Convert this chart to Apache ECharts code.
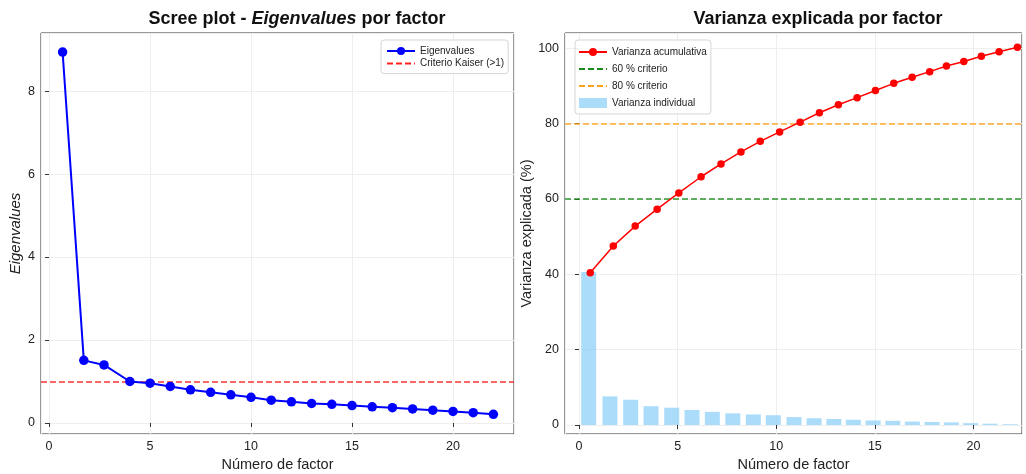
<!DOCTYPE html>
<html>
<head>
<meta charset="utf-8">
<script src="https://cdn.jsdelivr.net/npm/echarts@6/dist/echarts.min.js"></script>
<style>
html,body{margin:0;padding:0;background:#fff;}
#chart{width:1026px;height:474px;}
</style>
</head>
<body>
<div id="chart"></div>
<script>
// ---- data ----
const eigX = [0.67,1.72,2.72,4,5,6,7,8,9,10,11,12,13,14,15,16,17,18,19,20,21,22];
const eigVals = [8.94,1.51,1.40,1.00,0.96,0.88,0.80,0.74,0.68,0.62,0.55,0.51,0.47,0.45,0.42,0.39,0.37,0.34,0.31,0.28,0.25,0.21];
const kaiserLevel = 1;

const barX = [0.49,1.57,2.62,3.65,4.70,5.73,6.76,7.80,8.84,9.85,10.90,11.92,12.92,13.91,14.91,15.91,16.90,17.90,18.88,19.86,20.84,21.86];
const barVals = [40.6,7.6,6.7,5.0,4.6,4.0,3.5,3.1,2.8,2.6,2.1,1.8,1.6,1.4,1.2,1.1,0.9,0.8,0.7,0.5,0.35,0.2];

const cumX = [0.57,1.74,2.85,3.96,5.06,6.19,7.20,8.21,9.19,10.17,11.21,12.19,13.15,14.10,15.03,15.96,16.89,17.78,18.63,19.51,20.40,21.30,22.23];
const cumVals = [40.4,47.5,52.8,57.3,61.6,65.9,69.3,72.5,75.3,77.8,80.4,82.9,85.0,86.9,88.8,90.7,92.3,93.8,95.3,96.5,97.9,99.1,100.3];
const crit60 = 60;
const crit80 = 80;

const FONT = '"Liberation Sans", Arial, sans-serif';
const pairs = (xs, ys) => xs.map((x, i) => [x, ys[i]]);

const chart = echarts.init(document.getElementById('chart'), null, {renderer: 'canvas'});

function valueAxis(extra) {
  return Object.assign({
    type: 'value',
    axisLine: {show: false},
    axisTick: {show: true, inside: false, length: 4, lineStyle: {color: '#333', width: 1}},
    axisLabel: {color: '#222', fontSize: 12.5, fontFamily: FONT, margin: 6, showMinLabel: false, showMaxLabel: false},
    splitLine: {show: true, lineStyle: {color: '#eeeeee', width: 1}},
    nameTextStyle: {color: '#222', fontSize: 14.5, fontFamily: FONT}
  }, extra);
}

function refLine(name, value, color, xi, yi) {
  return {
    type: 'line', name: name, xAxisIndex: xi, yAxisIndex: yi, data: [],
    symbol: 'none',
    lineStyle: {color: color, width: 1.5, type: [6, 3]},
    itemStyle: {color: color},
    markLine: {
      silent: true, symbol: ['none', 'none'], label: {show: false},
      lineStyle: {color: color, width: 1.5, type: [6, 3], opacity: 0.9},
      data: [{yAxis: value}], z: 1
    }
  };
}

const legendBase = {
  orient: 'vertical',
  backgroundColor: 'rgba(255,255,255,0.9)',
  borderColor: '#d6d6d6', borderWidth: 1, borderRadius: 3,
  itemWidth: 28, itemHeight: 10,
  textStyle: {fontSize: 10, color: '#222', fontFamily: FONT, lineHeight: 10},
  selectedMode: false
};
const noSymbol = {opacity: 0};

const option = {
  animation: false,
  backgroundColor: '#fff',
  graphic: [
    {type: 'text', x: 297, y: 19, style: {
      text: '{b|Scree plot - }{i|Eigenvalues}{b| por factor}',
      align: 'center', verticalAlign: 'middle',
      rich: {
        b: {fontSize: 18, fontWeight: 'bold', fontFamily: FONT, fill: '#111'},
        i: {fontSize: 18, fontWeight: 'bold', fontStyle: 'italic', fontFamily: FONT, fill: '#111'}
      }
    }},
    {type: 'text', x: 818, y: 19, style: {
      text: 'Varianza explicada por factor',
      align: 'center', verticalAlign: 'middle',
      fontSize: 18, fontWeight: 'bold', fontFamily: FONT, fill: '#111'
    }}
  ],
  grid: [
    {left: 41, top: 33, width: 473, height: 401, show: true, borderColor: '#333', borderWidth: 1,
     backgroundColor: 'transparent', containLabel: false, outerBoundsMode: 'none'},
    {left: 565, top: 33, width: 457, height: 401, show: true, borderColor: '#333', borderWidth: 1,
     backgroundColor: 'transparent', containLabel: false, outerBoundsMode: 'none'}
  ],
  xAxis: [
    valueAxis({gridIndex: 0, min: -0.40, max: 23.02, name: 'Número de factor', nameLocation: 'middle', nameGap: 21}),
    valueAxis({gridIndex: 1, min: -0.71, max: 22.46, name: 'Número de factor', nameLocation: 'middle', nameGap: 21})
  ],
  yAxis: [
    valueAxis({gridIndex: 0, min: -0.265, max: 9.40, name: 'Eigenvalues', nameLocation: 'middle', nameGap: 18,
      nameTextStyle: {color: '#222', fontSize: 15, fontFamily: FONT, fontStyle: 'italic'}}),
    valueAxis({gridIndex: 1, min: -2.39, max: 104.06, name: 'Varianza explicada (%)', nameLocation: 'middle', nameGap: 29})
  ],
  legend: [
    Object.assign({}, legendBase, {
      left: 381, top: 40, padding: [6, 4, 5, 5], itemGap: 2.6,
      data: ['Eigenvalues', {name: 'Criterio Kaiser (>1)', itemStyle: noSymbol}]
    }),
    Object.assign({}, legendBase, {
      left: 575, top: 40, padding: [7, 4, 6, 3], itemGap: 7,
      data: ['Varianza acumulativa',
             {name: '60 % criterio', itemStyle: noSymbol},
             {name: '80 % criterio', itemStyle: noSymbol},
             {name: 'Varianza individual', icon: 'rect'}]
    })
  ],
  series: [
    refLine('Criterio Kaiser (>1)', kaiserLevel, '#ff2020', 0, 0),
    {
      type: 'line', name: 'Eigenvalues', xAxisIndex: 0, yAxisIndex: 0,
      data: pairs(eigX, eigVals),
      symbol: 'circle', symbolSize: 9.5,
      lineStyle: {color: '#0000ff', width: 2},
      itemStyle: {color: '#0000ff'}, z: 3
    },
    {
      type: 'bar', name: 'Varianza individual', xAxisIndex: 1, yAxisIndex: 1,
      data: pairs(barX, barVals), barWidth: 15,
      itemStyle: {color: 'rgba(135,206,250,0.7)'}, z: 1
    },
    refLine('60 % criterio', crit60, '#1a8a1a', 1, 1),
    refLine('80 % criterio', crit80, '#ffa21a', 1, 1),
    {
      type: 'line', name: 'Varianza acumulativa', xAxisIndex: 1, yAxisIndex: 1,
      data: pairs(cumX, cumVals),
      symbol: 'circle', symbolSize: 7.5,
      lineStyle: {color: '#ff0000', width: 1.5},
      itemStyle: {color: '#ff0000'}, z: 4
    }
  ]
};
chart.setOption(option);
</script>
</body>
</html>
